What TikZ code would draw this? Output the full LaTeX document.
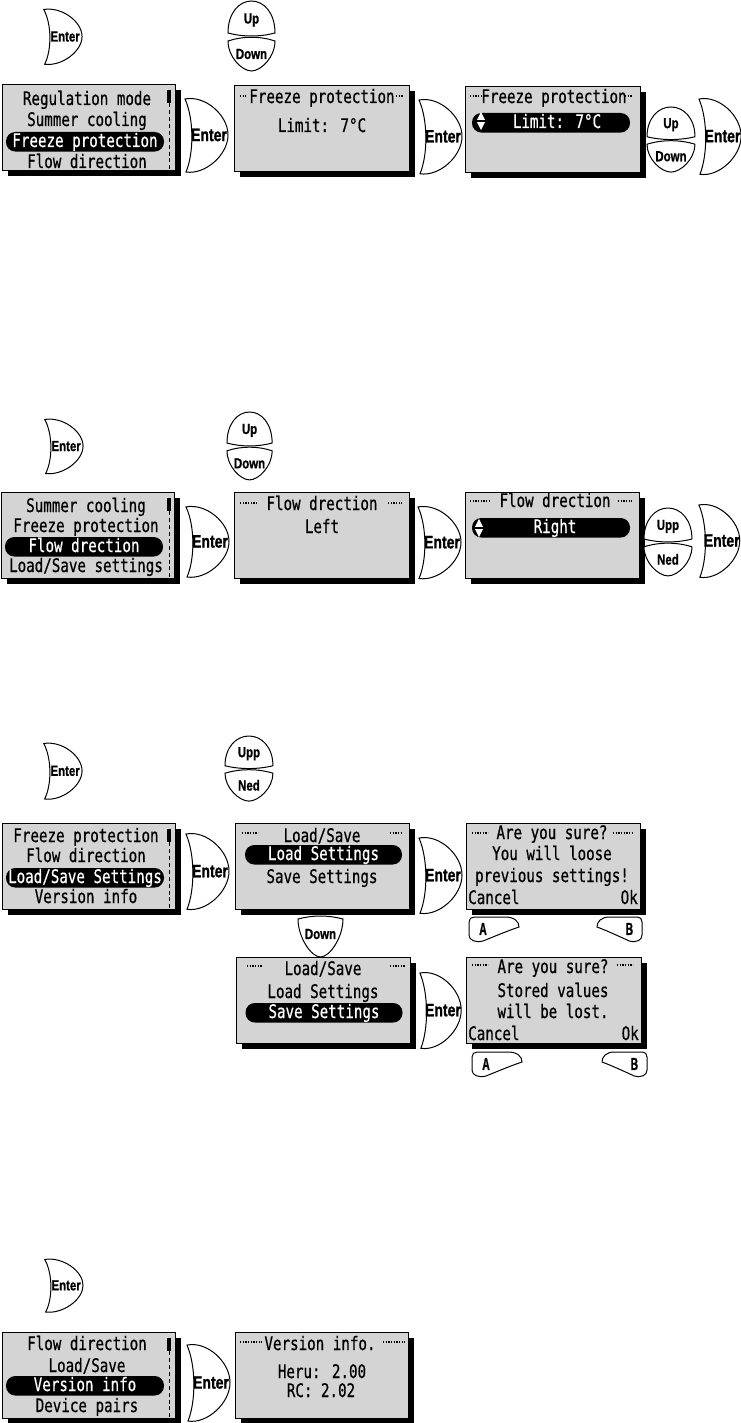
\documentclass[tikz,border=0pt]{standalone}
\usepackage{fontspec}
\newfontfamily\lcdfont[FakeStretch=0.76, FakeBold=0.6]{DejaVu Sans Mono}
\newfontfamily\keyfont[FakeStretch=0.78, FakeBold=1]{Liberation Sans}
\newfontfamily\softfont[FakeStretch=0.6, FakeBold=1]{Liberation Sans}
\usetikzlibrary{shadows}
\definecolor{lcdgray}{RGB}{212,212,212}

\tikzset{
  pics/enterkey/.style={code={
    \path[keyline] (2,2) .. controls (22,-2) and (45,18) .. (45,38)
      .. controls (45,58) and (22,78) .. (3,75)
      .. controls (11,56) and (11,22) .. (2,2) -- cycle;
    \node[keylabel=#1] (-txt) at (26,38) {Enter};
  }},
  pics/enterkey/.default=13.5,
  pics/updown/.style 2 args={code={
    \path[keyline] (0,32) .. controls (0,12) and (11,0) .. (23.5,0)
      .. controls (36,0) and (47,12) .. (47,32)
      .. controls (32,36) and (15,36) .. (0,32) -- cycle;
    \path[keyline] (0,40) .. controls (15,35) and (32,35) .. (47,40)
      .. controls (47,56) and (33,70) .. (23.5,70)
      .. controls (14,70) and (0,56) .. (0,40) -- cycle;
    \node[keylabel] (-up) at (23.5,19) {#1};
    \node[keylabel] (-dn) at (23.5,53) {#2};
  }},
  pics/downkey/.style={code={
    \path[keyline] (0,4) .. controls (15,0) and (30,0) .. (45,4)
      .. controls (45,22) and (32,42) .. (22.5,42)
      .. controls (13,42) and (0,22) .. (0,4) -- cycle;
    \node[keylabel] (-txt) at (22.5,19) {Down};
  }},
  pics/softkey/.style={code={
    \path[keyline] (5,0) -- (36,0) .. controls (46,0) and (50,5) .. (50,10)
      .. controls (38,14) and (24,20) .. (14,24)
      .. controls (6,26) and (0,23) .. (0,18) -- (0,5)
      .. controls (0,2) and (2,0) .. (5,0) -- cycle;
    \node[softlabel] (-txt) at (14,12) {#1};
  }},
  pics/arrowicon/.style={code={
    \fill[white] (-4,-1.2) -- (0,-9) -- (4,-1.2) -- cycle;
    \fill[white] (-4,1.2) -- (4,1.2) -- (0,9) -- cycle;
  }}
}

\begin{document}
\begin{tikzpicture}[x=0.75pt, y=-0.75pt,
  font=\lcdfont\fontsize{14}{16}\selectfont,
  screen/.style={draw, line width=0.9pt, fill=lcdgray, anchor=north west, inner sep=0pt,
    drop shadow={shadow xshift=3.75pt, shadow yshift=-3.75pt, fill=black, opacity=1}},
  scrsize/.style 2 args={minimum width=#1*0.75pt, minimum height=#2*0.75pt},
  lcd/.style={anchor=base, inner sep=0pt},
  selbar/.style={fill=black, text=white, anchor=base, rounded corners=7pt, inner sep=0pt,
    text height=11.25pt, text depth=3.4pt, minimum width=#1*0.75pt},
  titledash/.style={line width=0.8pt, dash pattern=on 1.1pt off 0.9pt},
  scroll/.style={line width=0.75pt, dash pattern=on 3pt off 2.2pt},
  keyline/.style={draw, fill=white, line width=0.75pt},
  keylabel/.style={inner sep=0pt, font=\keyfont\bfseries\fontsize{#1}{#1}\selectfont},
  keylabel/.default=11,
  softlabel/.style={inner sep=0pt, font=\softfont\bfseries\fontsize{13}{13}\selectfont}]
\useasboundingbox (0,0) rectangle (741,1423);

% --- freeze protection
\pic[xscale=0.89, yscale=0.75] (entA) at (42,8) {enterkey=11};
\pic (udA) at (228,1) {updown={Up}{Down}};
\node[screen, scrsize={173}{86}] (menuA) at (2,84) {};
\node[lcd] (a1) at (87,105) {Regulation mode};
\node[lcd] (a2) at (87,126) {Summer cooling};
\node[selbar=158] (a3) at (85,147) {Freeze protection};
\node[lcd] (a4) at (87,168) {Flow direction};
\pic (entB) at (183,97) {enterkey};
\node[screen, scrsize={175}{86}] (frzVal) at (234,85) {};
\node[lcd] (b1) at (322,103) {Freeze protection};
\node[lcd] (b2) at (322,132) {Limit: 7°C};
\pic[yscale=1.01] (entC) at (417,98) {enterkey};
\node[screen, scrsize={175}{86}] (frzEdit) at (465,86) {};
\node[lcd] (c1) at (554,103) {Freeze protection};
\node[selbar=158] (c2) at (551,128) {\hspace*{9pt}Limit: 7°C};
\pic at (481,121) {arrowicon};
\pic[xscale=1.02, yscale=0.93] (udB) at (647,107) {updown={Up}{Down}};
\pic[xscale=0.98, yscale=1.03] (entD) at (697,97) {enterkey};

% --- flow direction
\pic[xscale=0.89, yscale=0.74] (entE) at (43,418) {enterkey=11};
\pic[xscale=0.96, yscale=0.97] (udC) at (227,412) {updown={Up}{Down}};
\node[screen, scrsize={173}{86}] (menuB) at (1,492) {};
\node[lcd] (d1) at (86,512) {Summer cooling};
\node[lcd] (d2) at (86,532) {Freeze protection};
\node[selbar=158] (d3) at (84,552) {Flow drection};
\node[lcd] (d4) at (86,572) {Load/Save settings};
\pic[yscale=0.96] (entF) at (184,505) {enterkey};
\node[screen, scrsize={175}{86}] (flowVal) at (234,492) {};
\node[lcd] (e1) at (322,510) {Flow drection};
\node[lcd] (e2) at (322,533) {Left};
\pic[yscale=0.98] (entG) at (416,505) {enterkey};
\node[screen, scrsize={174}{86}] (flowEdit) at (465,492) {};
\node[lcd] (f1) at (555,507) {Flow drection};
\node[selbar=158] (f2) at (551,533) {\hspace*{6pt}Right};
\pic at (479,528) {arrowicon};
\pic[xscale=1.02, yscale=0.97] (udD) at (644,508) {updown={Upp}{Ned}};
\pic[xscale=0.95, yscale=0.99] (entH) at (697,503) {enterkey};

% --- load/save settings
\pic[xscale=0.89, yscale=0.76] (entI) at (42,742) {enterkey=11};
\pic[xscale=1.02, yscale=0.93] (udE) at (225,736) {updown={Upp}{Ned}};
\node[screen, scrsize={173}{86}] (menuC) at (2,823) {};
\node[lcd] (g1) at (86,842) {Freeze protection};
\node[lcd] (g2) at (86,862) {Flow direction};
\node[selbar=158] (g3) at (85,883) {Load/Save Settings};
\node[lcd] (g4) at (86,903) {Version info};
\pic[yscale=1.03] (entJ) at (184,832) {enterkey};
\node[screen, scrsize={174}{86}] (lsLoad) at (235,823) {};
\node[lcd] (h1) at (322,842) {Load/Save};
\node[selbar=157] (h2) at (323.5,860) {Load Settings};
\node[lcd] (h3) at (322,883) {Save Settings};
\pic[yscale=1.03] (entK) at (417,836) {enterkey};
\node[screen, scrsize={174}{86}] (lsLoadAsk) at (466,823) {};
\node[lcd] (i1) at (552,839) {Are you sure?};
\node[lcd] (i2) at (552,860) {You will loose};
\node[lcd] (i3) at (552,882) {previous settings!};
\node[lcd, anchor=base west] (i4) at (468,904) {Cancel};
\node[lcd, anchor=base east] (i5) at (638,904) {Ok};
\pic (softA1) at (469,917) {softkey=A};
\pic[xscale=-0.9] (softB1) at (642,917) {softkey=B};
\pic (dnA) at (298,915) {downkey};
\node[screen, scrsize={174}{86}] (lsSave) at (236,957) {};
\node[lcd] (j1) at (323,975) {Load/Save};
\node[lcd] (j2) at (323,998) {Load Settings};
\node[selbar=157] (j3) at (324,1018) {Save Settings};
\pic[xscale=0.96, yscale=1.03] (entL) at (418,971) {enterkey};
\node[screen, scrsize={175}{86}] (lsSaveAsk) at (466,957) {};
\node[lcd] (k1) at (553,973) {Are you sure?};
\node[lcd] (k2) at (553,997) {Stored values};
\node[lcd] (k3) at (553,1018) {will be lost.};
\node[lcd, anchor=base west] (k4) at (468,1040) {Cancel};
\node[lcd, anchor=base east] (k5) at (639,1040) {Ok};
\pic (softA2) at (472,1052) {softkey=A};
\pic[xscale=-0.9] (softB2) at (647,1052) {softkey=B};

% --- version info
\pic[xscale=0.89, yscale=0.72] (entM) at (43,1258) {enterkey=11};
\node[screen, scrsize={173}{86}] (menuD) at (2,1332) {};
\node[lcd] (l1) at (87,1350) {Flow direction};
\node[lcd] (l2) at (87,1372) {Load/Save};
\node[selbar=158] (l3) at (85,1391) {Version info};
\node[lcd] (l4) at (87,1412) {Device pairs};
\pic[yscale=1.04] (entN) at (185,1343) {enterkey};
\node[screen, scrsize={173}{86}] (verInfo) at (235,1332) {};
\node[lcd] (m1) at (320,1350) {Version info.};
\node[lcd] (m2) at (322,1378) {Heru: 2.00};
\node[lcd] (m3) at (321,1397) {RC: 2.02};

% scroll bars and title dashes
\foreach \t in {84,492,823,1332} {
  \fill (167,\t+6) rectangle (171,\t+19);
  \draw[scroll] (169.5,\t+19) -- (169.5,\t+86);
}
\foreach \xa/\xb/\y in {240/246/96, 396/403/96, 470/483/96, 625/632/96,
    240/258/503, 388/402/503, 470/490/501, 618/632/501,
    242/258/833, 390/403/833, 472/488/833, 613/632/833,
    247/262/966, 390/405/966, 472/488/965, 617/633/965,
    240/262/1342, 383/405/1342}
  \draw[titledash] (\xa,\y) -- (\xb,\y);
\end{tikzpicture}
\end{document}
